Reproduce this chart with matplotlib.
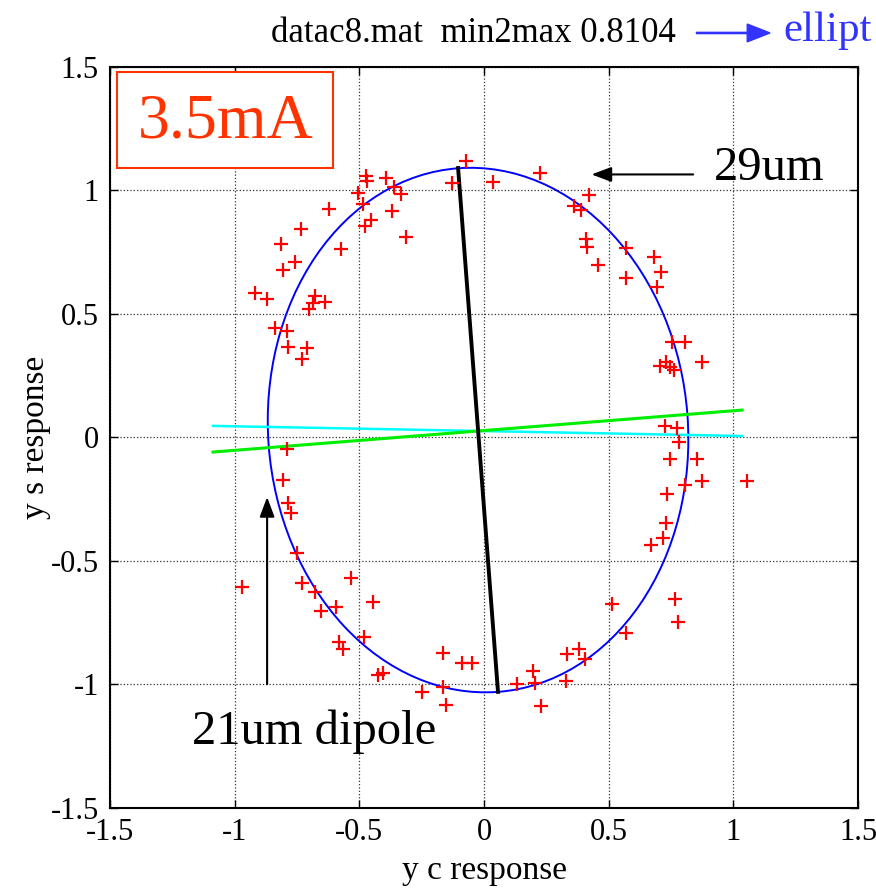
import matplotlib.pyplot as plt
from matplotlib.patches import Ellipse, Rectangle, FancyArrow

plt.rcParams['font.family'] = ['Liberation Serif', 'DejaVu Serif']

# measured (y c, y s) responses
yc = [-0.073, -0.127, 0.035, -0.475, -0.471, -0.393, -0.360, -0.333, -0.504, -0.487,
      -0.370, -0.620, -0.454, -0.477, -0.313, -0.735, -0.813, -0.572, -0.759, -0.807,
      -0.917, -0.870, -0.678, -0.685, -0.637, -0.701, -0.837, -0.789, -0.785, -0.711,
      -0.731,
      0.225, 0.421, 0.362, 0.389, 0.409, 0.412, 0.456, 0.568, 0.570, 0.682,
      0.710, 0.693, 0.753, 0.806, 0.873, 0.706, 0.729, 0.746, 0.763, 0.726,
      0.773,
      0.782, 0.746, 0.854, 0.806, 0.876, 1.054, 0.733, 0.730, 0.717, 0.669,
      0.766, 0.779, 0.513, 0.568, 0.334, 0.382, 0.405, 0.198, 0.131, 0.205,
      0.328, 0.229,
      -0.789, -0.805, -0.785, -0.775, -0.751, -0.969, -0.731, -0.678, -0.655, -0.594,
      -0.533, -0.444, -0.480, -0.580, -0.564, -0.424, -0.406, -0.250, -0.166, -0.089,
      -0.049, -0.166, -0.152]
ys = [1.120, 1.030, 1.036, 1.059, 1.038, 1.049, 1.015, 0.985, 0.991, 0.945,
      0.917, 0.925, 0.880, 0.858, 0.810, 0.843, 0.783, 0.762, 0.711, 0.678,
      0.585, 0.559, 0.573, 0.543, 0.549, 0.519, 0.445, 0.431, 0.365, 0.362,
      0.319,
      1.070, 0.982, 0.937, 0.921, 0.804, 0.772, 0.698, 0.766, 0.647, 0.730,
      0.671, 0.608, 0.388, 0.388, 0.304, 0.291, 0.307, 0.287, 0.273, 0.048,
      0.037,
      -0.017, -0.088, -0.088, -0.192, -0.176, -0.176, -0.230, -0.345, -0.408, -0.435,
      -0.654, -0.746, -0.675, -0.793, -0.877, -0.858, -0.898, -0.944, -0.999, -0.995,
      -0.986, -1.087,
      -0.048, -0.172, -0.266, -0.304, -0.469, -0.604, -0.588, -0.627, -0.702, -0.685,
      -0.570, -0.665, -0.806, -0.827, -0.858, -0.962, -0.952, -1.032, -0.874, -0.914,
      -0.914, -1.009, -1.083]

# fitted ellipse
ell_center = (-0.024, 0.03)
ell_major = 1.063
ell_minor = 0.842
ell_tilt = 4.3

# axis lines (x pairs, y pairs)
major_x, major_y = [-0.104, 0.056], [1.091, -1.030]
green_x, green_y = [-1.087, 1.035], [-0.059, 0.111]
cyan_x, cyan_y = [-1.087, 1.035], [0.047, 0.006]

ticks = [-1.5, -1, -0.5, 0, 0.5, 1, 1.5]
tick_labels = ['-1.5', '-1', '-0.5', '0', '0.5', '1', '1.5']

fig = plt.figure(figsize=(8.76, 8.91), dpi=100)
ax = fig.add_axes([0.1256, 0.0932, 0.8539, 0.8316])

ax.add_patch(Ellipse(ell_center, 2 * ell_minor, 2 * ell_major, angle=ell_tilt,
                     fill=False, edgecolor='#0000ff', lw=1.4, zorder=3))
ax.plot(cyan_x, cyan_y, color='#00ffff', lw=1.8, zorder=3)
ax.plot(green_x, green_y, color='#00ee00', lw=2.2, zorder=3)
ax.plot(major_x, major_y, color='black', lw=2.8, zorder=4)
ax.plot(yc, ys, '+', color='red', ms=10, mew=1.6, zorder=5)

ax.set_xlim(-1.5, 1.5)
ax.set_ylim(-1.5, 1.5)
ax.set_xticks(ticks)
ax.set_xticklabels(tick_labels)
ax.set_yticks(ticks)
ax.set_yticklabels(tick_labels)
ax.tick_params(direction='in', top=True, right=True, length=6, width=1,
               labelsize=22)
ax.tick_params(axis='x', pad=7)
ax.tick_params(axis='y', pad=8)
ax.grid(True, linestyle=':', color='#333333', lw=0.9)
for s in ax.spines.values():
    s.set_linewidth(1.5)

ax.set_xlabel('y c response', fontsize=24, labelpad=6)
ax.set_ylabel('y s response', fontsize=24, labelpad=0)

fig.text(0.54, 0.962, 'datac8.mat  min2max 0.8104', fontsize=25,
         ha='center', va='center')
fig.text(0.894, 0.965, 'ellipt', fontsize=31, color='#3333ff',
         ha='left', va='center')
fig.patches.append(FancyArrow(
    0.795, 0.963, 0.084, 0, width=0.0014, head_width=0.02, head_length=0.026,
    length_includes_head=True, color='#3333ff', transform=fig.transFigure, figure=fig))

# current label in its framed box
ax.add_patch(Rectangle((-1.472, 1.091), 0.866, 0.389, fill=True, fc='white',
                       ec='#ff3300', lw=1.5, zorder=6))
ax.text(-1.035, 1.277, '3.5mA', fontsize=46, color='#ff3300', ha='center',
        va='center', zorder=7)

ax.annotate('', xy=(0.42, 1.065), xytext=(0.85, 1.065),
            arrowprops=dict(arrowstyle='-|>,head_length=1.2,head_width=0.45',
                            color='black', lw=1.5))
ax.text(0.92, 1.09, '29um', fontsize=35, ha='left', va='center')

ax.annotate('', xy=(-0.87, -0.23), xytext=(-0.87, -1.01),
            arrowprops=dict(arrowstyle='-|>,head_length=1.2,head_width=0.45',
                            color='black', lw=1.5))
ax.text(-1.17, -1.19, '21um dipole', fontsize=35, ha='left', va='center')

fig.savefig('out.png', dpi=100)
